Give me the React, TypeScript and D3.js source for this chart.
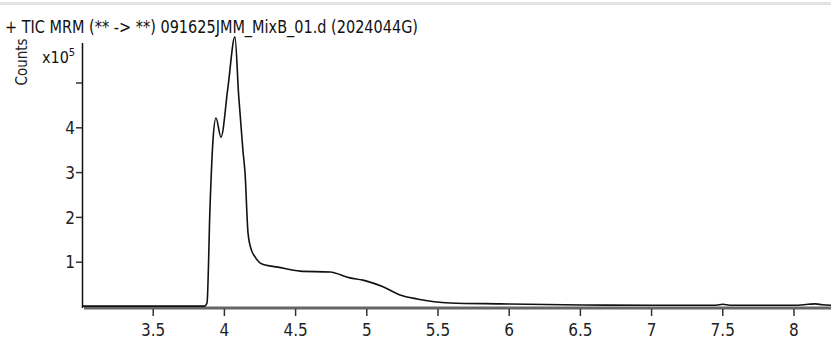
import React, { useEffect, useRef } from "react";
import * as d3 from "d3";

// retention time (min) and TIC counts (x10^5)
const retentionTimes = [3.0, 3.5, 3.86, 3.878, 3.899, 3.92, 3.941, 3.976, 4.025, 4.074, 4.1, 4.13, 4.145, 4.166, 4.19, 4.215, 4.264, 4.376, 4.531, 4.742, 4.882, 4.973, 5.114, 5.233, 5.353, 5.584, 5.935, 6.518, 7.0, 7.45, 7.5, 7.55, 8.0, 8.1, 8.15, 8.2, 8.26];
const counts = [0.02, 0.02, 0.02, 0.09, 2.23, 3.73, 4.22, 3.79, 4.91, 6.03, 4.73, 3.5, 2.99, 1.65, 1.27, 1.12, 0.96, 0.89, 0.8, 0.78, 0.65, 0.6, 0.45, 0.27, 0.18, 0.09, 0.07, 0.045, 0.04, 0.04, 0.06, 0.04, 0.04, 0.06, 0.07, 0.05, 0.04];

const xTicks = [3.5, 4, 4.5, 5, 5.5, 6, 6.5, 7, 7.5, 8];
const yTicks = [1, 2, 3, 4, 5];
const yTickLabels = ["1", "2", "3", "4", ""];

const title = "+ TIC MRM (** -> **) 091625JMM_MixB_01.d (2024044G)";
const yLabel = "Counts";

const FONT = "'Liberation Sans Narrow', 'DejaVu Sans Condensed', 'Liberation Sans', sans-serif";

const App = () => {
    const svgRef = useRef<SVGSVGElement | null>(null);

    useEffect(() => {
        const svg = d3.select(svgRef.current);
        svg.selectAll("*").remove();

        const width = 831;
        const height = 349;
        const left = 82;
        const x0 = 307;

        const x = d3.scaleLinear().domain([3.0, 8.26]).range([left, width]);
        const y = d3.scaleLinear().domain([0, 5]).range([x0, 83]);

        svg.attr("width", width).attr("height", height);

        // light strip at the top of the window
        svg.append("rect")
            .attr("x", 0).attr("y", 2)
            .attr("width", width).attr("height", 3)
            .attr("fill", "#e3e3e3");

        // title
        svg.append("text")
            .attr("x", 5)
            .attr("y", 33)
            .attr("textLength", 413)
            .attr("lengthAdjust", "spacingAndGlyphs")
            .style("font-family", FONT)
            .style("font-size", "17px")
            .style("fill", "#111")
            .text(title);

        // y label
        svg.append("text")
            .attr("transform", "translate(27,62) rotate(-90)")
            .attr("text-anchor", "middle")
            .style("font-family", FONT)
            .style("font-size", "15px")
            .style("fill", "#222")
            .text(yLabel);

        const mult = svg.append("text")
            .attr("x", 42)
            .attr("y", 63)
            .style("font-family", FONT)
            .style("font-size", "16px")
            .style("fill", "#111");
        mult.append("tspan").text("x10");
        mult.append("tspan").attr("dy", -7).style("font-size", "11px").text("5");

        // y axis
        svg.append("line")
            .attr("x1", left + 0.5).attr("x2", left + 0.5)
            .attr("y1", 43).attr("y2", x0 + 1)
            .attr("stroke", "#111").attr("stroke-width", 1.5);

        yTicks.forEach((t, i) => {
            svg.append("line")
                .attr("x1", left - 6).attr("x2", left)
                .attr("y1", y(t)).attr("y2", y(t))
                .attr("stroke", "#333").attr("stroke-width", 1.5);
            svg.append("text")
                .attr("x", left - 7)
                .attr("y", y(t))
                .attr("dy", "0.36em")
                .attr("text-anchor", "end")
                .style("font-family", FONT)
                .style("font-size", "17px")
                .style("fill", "#222")
                .text(yTickLabels[i]);
        });

        // x axis
        svg.append("line")
            .attr("x1", left + 2).attr("x2", width)
            .attr("y1", x0 + 1).attr("y2", x0 + 1)
            .attr("stroke", "#666").attr("stroke-width", 3);

        xTicks.forEach(t => {
            svg.append("line")
                .attr("x1", x(t)).attr("x2", x(t))
                .attr("y1", x0 + 2).attr("y2", x0 + 9)
                .attr("stroke", "#333").attr("stroke-width", 1.5);
            svg.append("text")
                .attr("x", x(t))
                .attr("y", x0 + 29)
                .attr("text-anchor", "middle")
                .style("font-family", FONT)
                .style("font-size", "17px")
                .style("fill", "#222")
                .text(String(t));
        });

        // trace
        const pts = retentionTimes.map((t, i) => [t, counts[i]] as [number, number]);
        const line = d3.line<[number, number]>()
            .x(d => x(d[0]))
            .y(d => y(d[1]))
            .curve(d3.curveMonotoneX);

        svg.append("path")
            .datum(pts)
            .attr("d", line)
            .attr("fill", "none")
            .attr("stroke", "#111")
            .attr("stroke-width", 1.6)
            .attr("stroke-linejoin", "round");
    }, []);

    return (
        <div style={{ position: "absolute", left: 0, top: 0, width: 831, height: 349, background: "white" }}>
            <svg ref={svgRef} style={{ display: "block" }} />
        </div>
    );
};

export default App;
